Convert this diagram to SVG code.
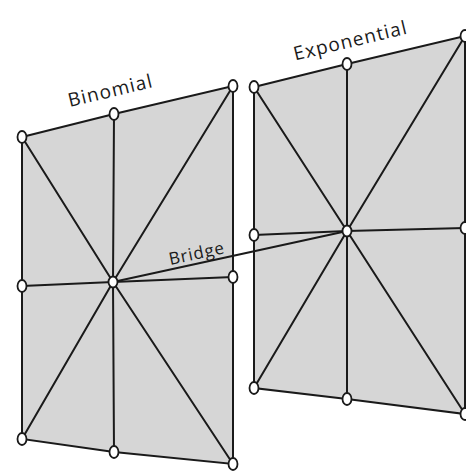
<svg xmlns="http://www.w3.org/2000/svg" width="466" height="472" viewBox="0 0 466 472">
<style>
.panel{fill:#d6d6d6;stroke:none}
.edge{stroke:#1a1a1a;stroke-width:2;fill:none;stroke-linecap:round}
.node{fill:#ffffff;stroke:#1a1a1a;stroke-width:1.8}
.lbl{font-family:"Open Sans","Noto Sans",sans-serif;font-size:19px;fill:#1a1a1a;text-anchor:middle;letter-spacing:1.1px}
</style>
<rect width="466" height="472" fill="#ffffff"/>
<g id="panels">
<polygon class="panel" points="22,137 114,114 233,86 233,277 233,464 114,452 22,439 22,286"/>
<polygon class="panel" points="254,87 347,64 465,36 465,228 465,414 347,399 254,388 254,235"/>
</g>
<g id="connectors">
<polyline class="edge" points="22,137 114,114 233,86 233,277 233,464 114,452 22,439 22,286 22,137"/>
<line class="edge" x1="113" y1="282" x2="22" y2="137"/>
<line class="edge" x1="113" y1="282" x2="114" y2="114"/>
<line class="edge" x1="113" y1="282" x2="233" y2="86"/>
<line class="edge" x1="113" y1="282" x2="233" y2="277"/>
<line class="edge" x1="113" y1="282" x2="233" y2="464"/>
<line class="edge" x1="113" y1="282" x2="114" y2="452"/>
<line class="edge" x1="113" y1="282" x2="22" y2="439"/>
<line class="edge" x1="113" y1="282" x2="22" y2="286"/>
<polyline class="edge" points="254,87 347,64 465,36 465,228 465,414 347,399 254,388 254,235 254,87"/>
<line class="edge" x1="347" y1="231" x2="254" y2="87"/>
<line class="edge" x1="347" y1="231" x2="347" y2="64"/>
<line class="edge" x1="347" y1="231" x2="465" y2="36"/>
<line class="edge" x1="347" y1="231" x2="465" y2="228"/>
<line class="edge" x1="347" y1="231" x2="465" y2="414"/>
<line class="edge" x1="347" y1="231" x2="347" y2="399"/>
<line class="edge" x1="347" y1="231" x2="254" y2="388"/>
<line class="edge" x1="347" y1="231" x2="254" y2="235"/>
<line id="bridge" class="edge" x1="113" y1="282" x2="347" y2="231"/>
</g>
<text class="lbl" transform="translate(112,97) rotate(-13.5)">Binomial</text>
<text class="lbl" transform="translate(352,47) rotate(-13.5)">Exponential</text>
<text class="lbl" style="font-size:17px;letter-spacing:0.9px" transform="translate(198,259) rotate(-12)">Bridge</text>
<g id="b_tl"><ellipse class="node" cx="22" cy="137" rx="4.5" ry="6"/></g>
<g id="b_tm"><ellipse class="node" cx="114" cy="114" rx="4.5" ry="6"/></g>
<g id="b_tr"><ellipse class="node" cx="233" cy="86" rx="4.5" ry="6"/></g>
<g id="b_ml"><ellipse class="node" cx="22" cy="286" rx="4.5" ry="6"/></g>
<g id="b_c"><ellipse class="node" cx="113" cy="282" rx="4.5" ry="5.5"/></g>
<g id="b_mr"><ellipse class="node" cx="233" cy="277" rx="4.5" ry="6"/></g>
<g id="b_bl"><ellipse class="node" cx="22" cy="439" rx="4.5" ry="6"/></g>
<g id="b_bm"><ellipse class="node" cx="114" cy="452" rx="4.5" ry="6"/></g>
<g id="b_br"><ellipse class="node" cx="233" cy="464" rx="4.5" ry="6"/></g>
<g id="e_tl"><ellipse class="node" cx="254" cy="87" rx="4.5" ry="6"/></g>
<g id="e_tm"><ellipse class="node" cx="347" cy="64" rx="4.5" ry="6"/></g>
<g id="e_tr"><ellipse class="node" cx="465" cy="36" rx="4.5" ry="6"/></g>
<g id="e_ml"><ellipse class="node" cx="254" cy="235" rx="4.5" ry="6"/></g>
<g id="e_c"><ellipse class="node" cx="347" cy="231" rx="4.5" ry="5.5"/></g>
<g id="e_mr"><ellipse class="node" cx="465" cy="228" rx="4.5" ry="6"/></g>
<g id="e_bl"><ellipse class="node" cx="254" cy="388" rx="4.5" ry="6"/></g>
<g id="e_bm"><ellipse class="node" cx="347" cy="399" rx="4.5" ry="6"/></g>
<g id="e_br"><ellipse class="node" cx="465" cy="414" rx="4.5" ry="6"/></g>
</svg>
